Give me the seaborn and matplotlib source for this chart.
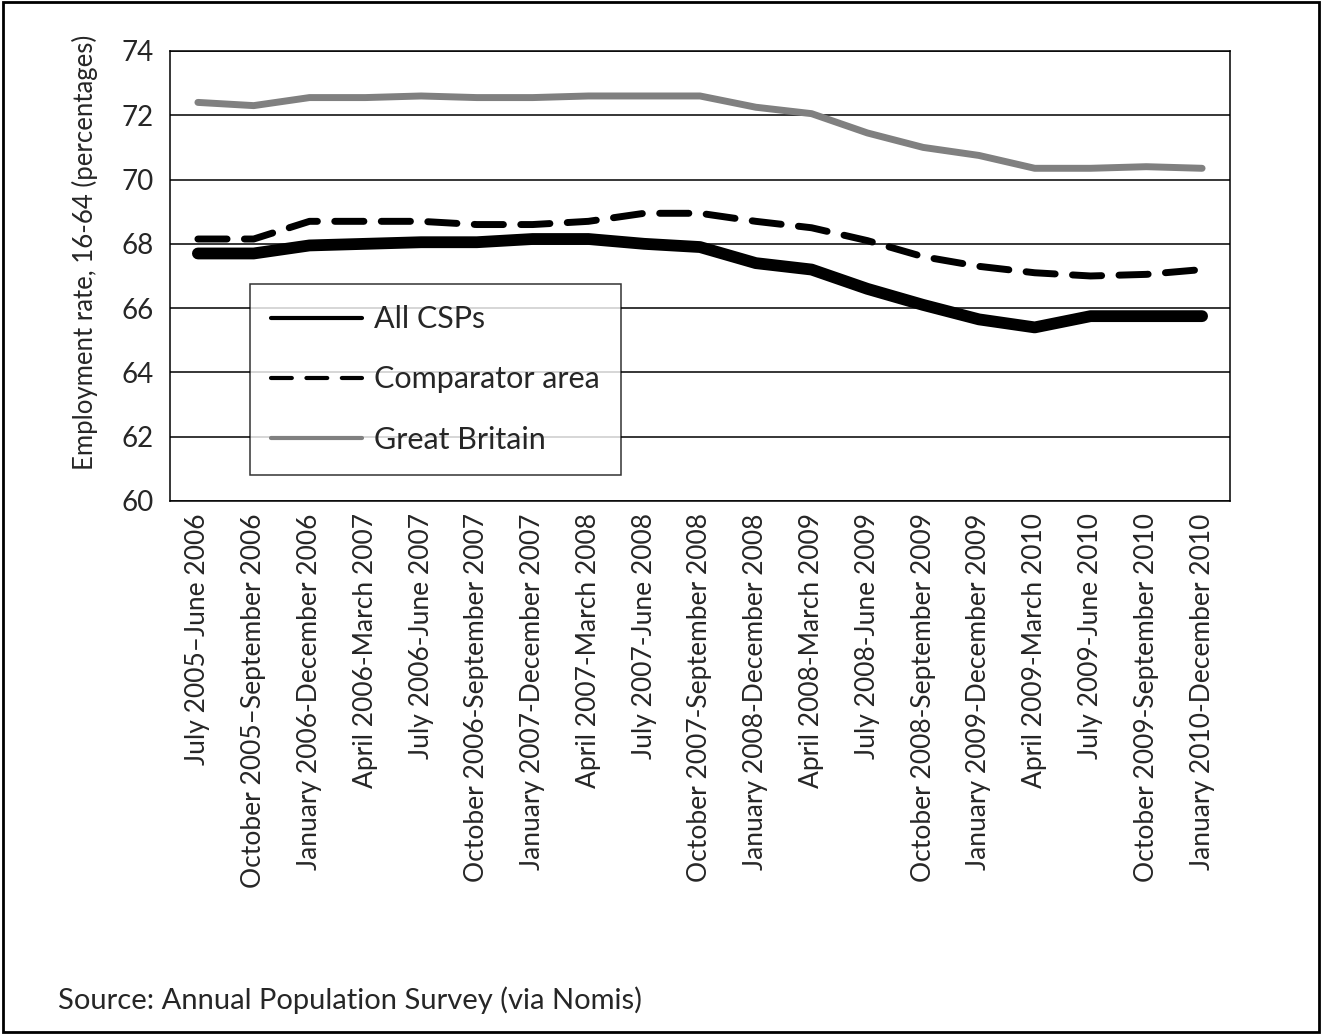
import numpy as np
import pandas as pd
import seaborn as sns
import matplotlib.pyplot as plt
from matplotlib.patches import Rectangle

periods = [
    "July 2005–June 2006",
    "October 2005–September 2006",
    "January 2006-December 2006",
    "April 2006-March 2007",
    "July 2006-June 2007",
    "October 2006-September 2007",
    "January 2007-December 2007",
    "April 2007-March 2008",
    "July 2007-June 2008",
    "October 2007-September 2008",
    "January 2008-December 2008",
    "April 2008-March 2009",
    "July 2008-June 2009",
    "October 2008-September 2009",
    "January 2009-December 2009",
    "April 2009-March 2010",
    "July 2009-June 2010",
    "October 2009-September 2010",
    "January 2010-December 2010",
]

all_csps = [67.7, 67.7, 67.95, 68.0, 68.05, 68.05, 68.15, 68.15, 68.0, 67.9,
            67.4, 67.2, 66.6, 66.1, 65.65, 65.4, 65.75, 65.75, 65.75]
comparator = [68.15, 68.15, 68.7, 68.7, 68.7, 68.6, 68.6, 68.7, 68.95, 68.95,
              68.7, 68.5, 68.1, 67.6, 67.3, 67.1, 67.0, 67.05, 67.2]
great_britain = [72.4, 72.3, 72.55, 72.55, 72.6, 72.55, 72.55, 72.6, 72.6, 72.6,
                 72.25, 72.05, 71.45, 71.0, 70.75, 70.35, 70.35, 70.4, 70.35]

sns.set_style("white")
plt.rcParams['font.family'] = ['Lato', 'DejaVu Sans']

df = pd.DataFrame({
    "idx": np.arange(len(periods)),
    "All CSPs": all_csps,
    "Comparator area": comparator,
    "Great Britain": great_britain,
})

fig = plt.figure(figsize=(13.22, 10.34), dpi=100)
ax = fig.add_axes([0.1286, 0.5155, 0.8018, 0.4352])

sns.lineplot(data=df, x="idx", y="Great Britain", ax=ax, color="#808080",
             linewidth=5, label="Great Britain", solid_capstyle="round")
sns.lineplot(data=df, x="idx", y="Comparator area", ax=ax, color="black",
             linewidth=5, label="Comparator area", dash_capstyle="round")
sns.lineplot(data=df, x="idx", y="All CSPs", ax=ax, color="black",
             linewidth=8.5, label="All CSPs", solid_capstyle="round")
ax.lines[1].set_dashes((4.2, 2.5))

ax.set_ylim(60, 74)
ax.set_yticks(np.arange(60, 75, 2))
ax.set_xlim(-0.5, len(periods) - 0.5)
ax.set_xticks(np.arange(len(periods)))
ax.set_xticklabels(periods, rotation=90, fontsize=19)
ax.tick_params(axis="y", labelsize=20, length=0, pad=12)
ax.tick_params(axis="x", length=0, pad=9)
ax.yaxis.grid(True, color="black", linewidth=1.1)
ax.set_axisbelow(True)
for s in ax.spines.values():
    s.set_color("black")
    s.set_linewidth(1.1)
ax.set_xlabel("")
ax.set_ylabel("Employment rate, 16-64 (percentages)", fontsize=18.5)
ax.yaxis.set_label_coords(-0.068, 0.553)

handles, labels = ax.get_legend_handles_labels()
order = [2, 1, 0]
leg = ax.legend([handles[i] for i in order], [labels[i] for i in order],
                loc="lower left", bbox_to_anchor=(0.0755, 0.0578),
                fontsize=22, frameon=True, fancybox=False, edgecolor="black",
                handlelength=2.95, labelspacing=1.05, borderpad=0.7,
                handletextpad=0.4, borderaxespad=0)
leg.get_frame().set_linewidth(1.1)
for h in leg.get_lines():
    h.set_linewidth(3)
    h.set_solid_capstyle("round")
    h.set_dash_capstyle("round")
leg.get_lines()[1].set_dashes((5, 3.5))

fig.text(58 / 1322, 1 - 1000 / 1034, "Source: Annual Population Survey (via Nomis)",
         fontsize=21, va="center", ha="left")
fig.patches.append(Rectangle((0.002, 0.002), 0.996, 0.996, transform=fig.transFigure,
                             fill=False, edgecolor="black", linewidth=2))

fig.savefig("out.png", dpi=100)
